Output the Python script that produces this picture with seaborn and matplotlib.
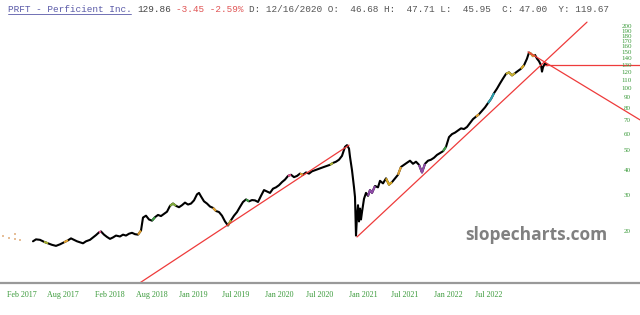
import numpy as np
import pandas as pd
import matplotlib
matplotlib.use("Agg")
import matplotlib.pyplot as plt
import seaborn as sns

# bar index (one unit per chart column) and closing prices
bar = [33, 36, 40, 44, 48, 52, 56, 60, 64, 68, 71, 74, 77, 80, 83, 86, 90, 93, 96, 99,
       101, 104, 107, 110, 113, 116, 120, 123, 126, 129, 132, 135, 138, 141, 143, 146, 149, 152, 155, 158,
       161, 164, 167, 170, 173, 176, 179, 182, 185, 188, 191, 194, 197, 199, 201, 204, 207, 210, 213, 216,
       219, 222, 225, 228, 231, 234, 237, 240, 243, 246, 249, 252, 255, 258, 261, 264, 267, 270, 273, 276,
       279, 282, 285, 288, 291, 294, 297, 300, 303, 306, 309, 312, 315, 318, 321, 324, 327, 330, 333, 336,
       339, 342, 345, 347, 349, 350, 352, 354, 355, 356, 357, 358, 359, 360, 361, 362, 364, 366, 368, 370,
       372, 375, 378, 380, 383, 386, 389, 392, 395, 398, 401, 404, 407, 410, 413, 416, 419, 422, 425, 428,
       431, 434, 437, 440, 443, 446, 449, 452, 455, 458, 461, 464, 467, 470, 473, 476, 479, 482, 485, 488,
       491, 494, 497, 500, 503, 506, 509, 512, 515, 518, 521, 524, 527, 529, 531, 533, 535, 537, 539, 541,
       542, 543, 545, 547]
close = [18.0, 18.4, 18.3, 17.9, 17.6, 17.3, 17.1, 17.4, 17.8, 18.2, 18.6, 18.3, 18.0, 17.8, 17.6, 18.0, 18.3, 18.8, 19.3, 19.9,
         20.1, 19.4, 18.9, 18.5, 18.8, 19.2, 19.0, 19.4, 19.2, 19.6, 19.8, 19.5, 19.4, 20.3, 23.5, 24.0, 23.0, 22.7, 23.6, 24.2,
         23.9, 24.5, 25.1, 26.8, 27.5, 26.8, 26.4, 27.0, 27.8, 27.2, 27.5, 28.5, 30.5, 31.0, 29.8, 28.2, 27.5, 26.6, 26.2, 25.3,
         25.0, 24.0, 22.5, 21.5, 22.8, 24.0, 25.0, 26.5, 28.0, 28.8, 28.2, 28.6, 28.5, 28.0, 30.0, 32.0, 31.5, 31.0, 32.5, 33.0,
         33.8, 35.0, 36.0, 37.5, 38.0, 37.0, 37.5, 38.5, 38.0, 39.0, 38.5, 39.5, 40.0, 40.5, 41.0, 41.5, 42.0, 42.5, 43.4, 44.0,
         45.0, 47.0, 52.0, 53.0, 51.0, 46.5, 40.0, 33.0, 29.6, 19.2, 24.0, 27.0, 22.5, 26.0, 23.0, 25.0, 29.0, 31.0, 30.0, 32.0,
         31.0, 33.5, 33.0, 35.5, 34.5, 36.5, 34.0, 35.0, 36.5, 38.0, 41.5, 42.5, 43.5, 44.5, 43.0, 44.0, 42.5, 39.0, 43.0, 44.5,
         45.0, 46.0, 47.5, 48.5, 49.5, 52.0, 58.0, 60.0, 61.0, 62.5, 64.0, 63.5, 65.0, 68.0, 71.0, 73.0, 75.0, 78.0, 81.0, 85.0,
         89.0, 95.0, 100.0, 106.0, 112.0, 118.0, 120.0, 116.0, 119.0, 122.0, 125.0, 130.0, 140.0, 150.0, 148.0, 144.0, 146.0, 140.0, 136.0, 130.0,
         121.0, 127.0, 133.0, 130.0]

# coloured stretches of the price line
hl_from = [44, 62, 97, 118, 136, 150, 168, 212, 226, 244, 262, 286, 300, 330,
           368, 386, 398, 418, 438, 443, 476, 486, 506, 520, 529]
hl_to = [50, 70, 102, 122, 142, 156, 176, 218, 232, 250, 266, 292, 304, 334,
         376, 394, 402, 426, 441, 448, 480, 494, 516, 524, 535]
hl_color = ["#a8b030", "#e0a030", "#e04f8a", "#e0a030", "#e0a030", "#3d9a45", "#7faa3a",
            "#e0a030", "#a8b030", "#3d9a45", "#8e4aa8", "#e04f8a", "#e0a030", "#a8b030",
            "#8e4aa8", "#d8a820", "#e0a030", "#8e4aa8", "#3d9a45", "#3d9a45", "#e0a030",
            "#2aa0b0", "#c8b030", "#d8a820", "#e0a030"]

# faint early bars at the left edge
early_bar = [3, 9, 15, 15, 20]
early_price = [19.2, 18.7, 19.5, 18.4, 18.2]

# drawn trend lines: (bar, price) endpoints
trend_x = [[140, 349], [357, 587], [545, 640], [528, 640]]
trend_y = [[11.3, 53.0], [18.9, 211.0], [131.0, 131.0], [151.0, 70.4]]

x_tick_pos = [22, 63, 110, 152, 193, 236, 279, 320, 363, 405, 448, 489]
x_tick_labels = ["Feb 2017", "Aug 2017", "Feb 2018", "Aug 2018", "Jan 2019", "Jul 2019",
                 "Jan 2020", "Jul 2020", "Jan 2021", "Jul 2021", "Jan 2022", "Jul 2022"]
y_ticks = [20, 30, 40, 50, 60, 70, 80, 90, 100, 110, 120, 130, 140, 150, 160, 170, 180, 190, 200]

header_parts = ["PRFT - Perficient Inc.", "129.86", "-3.45 -2.59%",
                "D: 12/16/2020 O:  46.68 H:  47.71 L:  45.95  C: 47.00  Y: 119.67"]
header_start = [0, 23, 30, 43]
header_color = ["#5a5aa8", "#444444", "#e05555", "#555555"]

sns.set_style("white")
plt.rcParams["font.family"] = ["DejaVu Sans"]

fig = plt.figure(figsize=(6.4, 3.15), dpi=100)
ax = fig.add_axes([0, 32 / 315, 1, 265 / 315])

df = pd.DataFrame({"bar": bar, "close": close})
sns.lineplot(data=df, x="bar", y="close", ax=ax, color="black", linewidth=1.5,
             estimator=None, sort=False)
for a, b, c in zip(hl_from, hl_to, hl_color):
    seg = df[(df["bar"] >= a) & (df["bar"] <= b)]
    ax.plot(seg["bar"], seg["close"], color=c, linewidth=1.5, solid_capstyle="butt")

ax.scatter(early_bar, early_price, marker="s", s=4, color="#e0b080", alpha=0.8, linewidths=0)

for tx, ty in zip(trend_x, trend_y):
    ax.plot(tx, ty, color="#ee3b3b", linewidth=0.9)

ax.set_yscale("log")
ax.set_xlim(0, 640)
ax.set_ylim(11.27, 221)
ax.set_xlabel("")
ax.set_ylabel("")

ax.set_xticks(x_tick_pos)
ax.set_xticklabels(x_tick_labels, fontsize=5.8, color="#3a9a3a", family="Liberation Serif")
ax.tick_params(axis="x", length=0, pad=6)
ax.set_yticks([])
ax.yaxis.set_minor_locator(matplotlib.ticker.NullLocator())

for v in y_ticks:
    ax.text(627, v, str(v), ha="center", va="center", fontsize=5, color="#3a9a3a",
            family="Liberation Serif")

for s in ["top", "left", "right"]:
    ax.spines[s].set_visible(False)
ax.spines["bottom"].set_color("#999999")
ax.spines["bottom"].set_linewidth(1.6)

ax.text(536, 19.3, "slopecharts.com", ha="center", va="center", fontsize=12.5,
        fontweight="bold", color="#808080", family="Open Sans")

cw = 5.6
for txt, st, col in zip(header_parts, header_start, header_color):
    fig.text((8 + st * cw) / 640, 1 - 9 / 315, txt, ha="left", va="center",
             fontsize=6.72, color=col, family="Liberation Mono")
fig.add_artist(plt.Line2D([8 / 640, (8 + 22 * cw) / 640], [1 - 13.5 / 315] * 2,
                          color="#5a5aa8", linewidth=0.6))

fig.savefig("out.png", dpi=100)
